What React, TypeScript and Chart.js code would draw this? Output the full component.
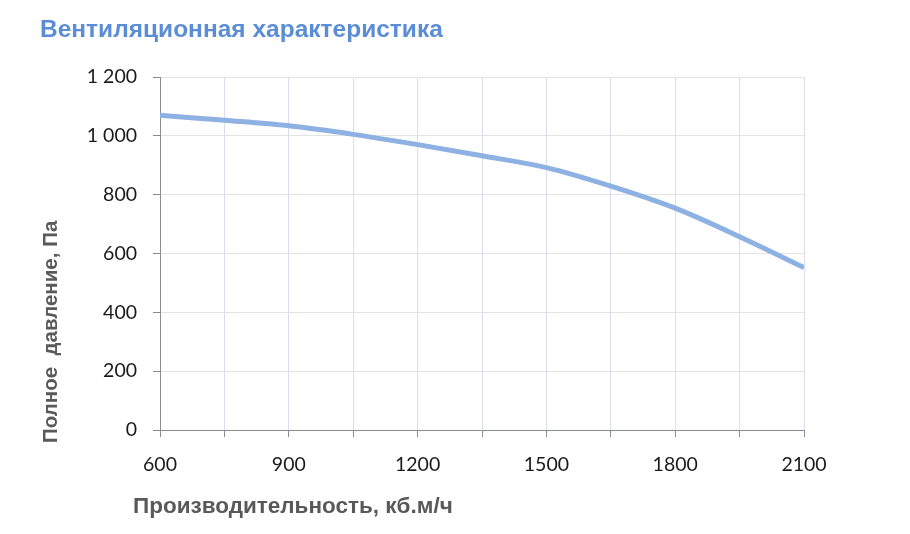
import { useEffect, useRef } from "react"
import { Chart, registerables } from "chart.js"

Chart.register(...registerables)

// data
const airflow = [600, 750, 900, 1050, 1200, 1350, 1500, 1650, 1800, 1950, 2100]
const pressure = [1070, 1053, 1034, 1005, 970, 932, 892, 829, 754, 657, 552]

const chartTitle = "Вентиляционная характеристика"
const xTitle = "Производительность, кб.м/ч"
const yTitle = "Полное  давление, Па"

const fmt = (v: number) => String(v).replace(/\B(?=(\d{3})+(?!\d))/g, " ")

// draws the chart title and the two axis titles at Excel-like positions
const titlesPlugin = {
  id: "titles",
  afterDraw(chart: Chart) {
    const { ctx, chartArea } = chart
    ctx.save()
    ctx.textBaseline = "middle"
    ctx.textAlign = "left"

    ctx.font = "bold 24.5px 'Liberation Sans', Arial, sans-serif"
    ctx.fillStyle = "#5b8dd6"
    ctx.fillText(chartTitle, 40, 30)

    ctx.font = "bold 22.5px 'Liberation Sans', Arial, sans-serif"
    ctx.fillStyle = "#595959"
    ctx.fillText(xTitle, chartArea.left - 27, 507)

    ctx.font = "bold 20.5px 'Liberation Sans', Arial, sans-serif"
    ctx.translate(51, chartArea.bottom + 13)
    ctx.rotate(-Math.PI / 2)
    ctx.fillText(yTitle, 0, 0)
    ctx.restore()
  },
}

export default function App() {
  const canvasRef = useRef<HTMLCanvasElement | null>(null)
  const chartInstance = useRef<Chart | null>(null)

  useEffect(() => {
    if (!canvasRef.current) return
    const ctx = canvasRef.current.getContext("2d")
    if (!ctx) return

    chartInstance.current = new Chart(ctx, {
      type: "line",
      data: {
        datasets: [
          {
            data: airflow.map((x, i) => ({ x, y: pressure[i] })),
            borderColor: "#8eb1e3",
            borderWidth: 5,
            pointRadius: 0,
            tension: 0.4,
            cubicInterpolationMode: "monotone",
            fill: false,
          },
        ],
      },
      options: {
        animation: false,
        responsive: true,
        maintainAspectRatio: false,
        layout: {
          padding: { left: 70, right: 106, top: 77, bottom: 0 },
        },
        plugins: {
          legend: { display: false },
          tooltip: { enabled: false },
        },
        scales: {
          x: {
            type: "linear",
            min: 600,
            max: 2100,
            afterFit: (scale) => {
              scale.height = 104
            },
            border: { color: "#8c8c8c", width: 1 },
            grid: {
              color: "#d6dff0",
              tickColor: "#8c8c8c",
              tickLength: 7,
            },
            ticks: {
              stepSize: 150,
              padding: 16,
              maxRotation: 0,
              autoSkip: false,
              color: "#1a1a1a",
              font: { family: "Lato", size: 19.5 },
              // labels only every 300, but keep the grid line every 150
              callback: (v) => (Number(v) % 300 === 0 ? String(v) : ""),
            },
          },
          y: {
            min: 0,
            max: 1200,
            afterFit: (scale) => {
              scale.width = 90
            },
            border: { color: "#8c8c8c", width: 1 },
            grid: {
              color: "#e3e3e3",
              tickColor: "#8c8c8c",
              tickLength: 7,
            },
            ticks: {
              stepSize: 200,
              padding: 16,
              color: "#1a1a1a",
              font: { family: "Lato", size: 19.5 },
              callback: (v) => fmt(Number(v)),
            },
          },
        },
      },
      plugins: [titlesPlugin],
    })

    return () => {
      if (chartInstance.current) {
        chartInstance.current.destroy()
      }
    }
  }, [])

  return (
    <div style={{ position: "absolute", left: 0, top: 0, width: 910, height: 534, background: "#fff" }}>
      <canvas ref={canvasRef} />
    </div>
  )
}
